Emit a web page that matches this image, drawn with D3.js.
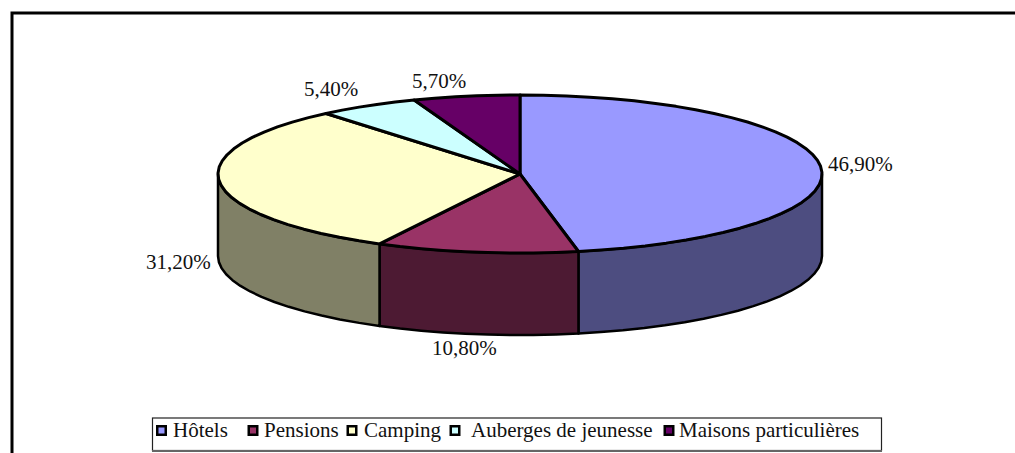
<!DOCTYPE html>
<html><head><meta charset="utf-8">
<script src="https://cdn.jsdelivr.net/npm/d3@7"></script>
<style>html,body{margin:0;padding:0;background:#fff}svg{display:block}text{font-family:"Liberation Serif",serif;fill:#111}</style>
</head><body><svg id="c" width="1015" height="453"></svg>
<script>
const categories=["Hôtels","Pensions","Camping","Auberges de jeunesse","Maisons particulières"];
const shares=[46.9,10.8,31.2,5.4,5.7];
const valueLabels=["46,90%","10,80%","31,20%","5,40%","5,70%"];
const topColors=["#9999FF","#993366","#FFFFCC","#CCFFFF","#660066"];
const sideColors=["#4D4D80","#4D1A33","#808066","#668080","#330033"];
const labelAnchors=[[828,170.5],[432,355],[146,269],[304,96],[412,88]];
const legendTextX=[173,264,364,471,679];
const legendSwatchX=[161.5,253,352,455,669];

const svg=d3.select("#c");
const cx=520,cy=174,rx=302,ry=79,depth=82;
const px=a=>cx+rx*Math.sin(a), py=a=>cy-ry*Math.cos(a);
const arcs=d3.pie().sort(null).value(d=>d)(shares);
const STEP=Math.PI/40;
const samples=(a0,a1)=>{const n=Math.max(1,Math.ceil((a1-a0)/STEP));return d3.range(n+1).map(i=>a0+(a1-a0)*i/n);};
const line=d3.line();

// frame
svg.append("path").attr("d","M12,453V13H1015").attr("fill","none").attr("stroke","#000").attr("stroke-width",3);

// side walls (front half only)
const PI=Math.PI;
arcs.forEach((s,i)=>{
  const a0=Math.max(s.startAngle,PI/2),a1=Math.min(s.endAngle,3*PI/2);
  if(a1>a0){
    const top=samples(a0,a1).map(a=>[px(a),py(a)]);
    const bot=top.slice().reverse().map(([x,y])=>[x,y+depth]);
    svg.append("path").attr("d",line(top.concat(bot))+"Z")
      .attr("fill",sideColors[i]).attr("stroke","#000").attr("stroke-width",2.5).attr("stroke-linejoin","round");
  }
});
// top slices
arcs.forEach((s,i)=>{
  const pts=[[cx,cy]].concat(samples(s.startAngle,s.endAngle).map(a=>[px(a),py(a)]));
  svg.append("path").attr("d",line(pts)+"Z")
    .attr("fill",topColors[i]).attr("stroke","#000").attr("stroke-width",3).attr("stroke-linejoin","round");
});
// value labels
valueLabels.forEach((t,i)=>{
  svg.append("text").attr("x",labelAnchors[i][0]).attr("y",labelAnchors[i][1]).attr("font-size",21).text(t);
});
// legend
svg.append("rect").attr("x",152.5).attr("y",418).attr("width",729).attr("height",32.5)
  .attr("fill","#fff").attr("stroke","#222").attr("stroke-width",1.2);
svg.append("line").attr("x1",152).attr("x2",882).attr("y1",451).attr("y2",451)
  .attr("stroke","#666").attr("stroke-width",2);
categories.forEach((c,i)=>{
  svg.append("rect").attr("x",legendSwatchX[i]-4.25).attr("y",426.25).attr("width",8.5).attr("height",8.5)
    .attr("fill",topColors[i]).attr("stroke","#000").attr("stroke-width",2.5);
  svg.append("text").attr("x",legendTextX[i]).attr("y",437).attr("font-size",21).text(c);
});
</script></body></html>
